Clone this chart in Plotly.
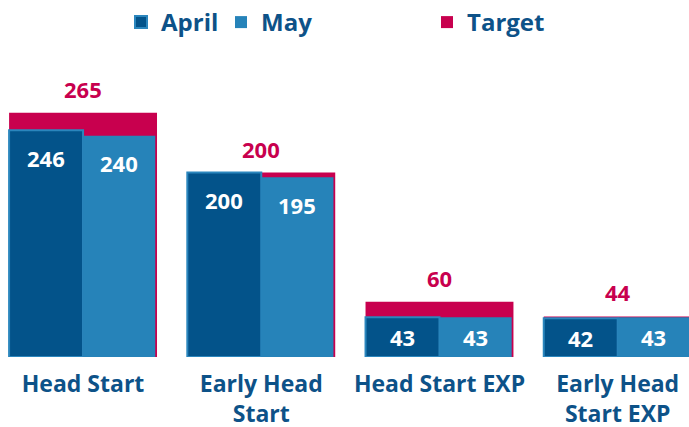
import plotly.graph_objects as go

categories = ["Head Start", "Early Head<br>Start", "Head Start EXP", "Early Head<br>Start EXP"]
april = [246, 200, 43, 42]
may = [240, 195, 43, 43]
target = [265, 200, 60, 44]

C_APRIL = "#03538a"
C_APRIL_LINE = "#2b86bd"
C_MAY = "#2683b9"
C_TARGET = "#c8004e"
C_TEXT = "#0d5288"
FONT = "Open Sans"

fig = go.Figure()
fig.add_trace(go.Bar(
    x=categories, y=target, name="Target", width=0.83, offset=-0.415,
    marker=dict(color=C_TARGET, line=dict(width=0)), legend="legend3",
))
fig.add_trace(go.Bar(
    x=categories, y=april, name="April", width=0.415, offset=-0.415,
    marker=dict(color=C_APRIL, line=dict(color=C_APRIL_LINE, width=2)), legend="legend",
))
fig.add_trace(go.Bar(
    x=categories, y=may, name="May", width=0.405, offset=0.0,
    marker=dict(color=C_MAY, line=dict(width=0)), legend="legend2",
))

annotations = []
for i, c in enumerate(categories):
    annotations.append(dict(x=i, y=target[i], text=f"{target[i]}", showarrow=False,
                            yshift=24, font=dict(family=FONT, size=22, color=C_TARGET, weight="bold")))
    for vals, dx in ((april, -0.2075), (may, 0.2025)):
        v = vals[i]
        ylab = max(v - 30, v / 2)
        annotations.append(dict(x=i + dx, y=ylab, text=f"{v}", showarrow=False,
                                font=dict(family=FONT, size=22, color="white", weight="bold")))

legend_font = dict(family=FONT, size=24, color=C_TEXT, weight="bold")


def leg(xpx):
    return dict(orientation="h", x=xpx / 689, y=1.0, xref="container", yref="container",
                xanchor="left", yanchor="top", font=legend_font, itemwidth=30,
                bgcolor="rgba(0,0,0,0)")


fig.update_layout(
    width=689, height=427,
    margin=dict(l=0, r=0, t=50, b=70, autoexpand=False),
    barmode="overlay",
    plot_bgcolor="white", paper_bgcolor="white",
    font=dict(family=FONT, color=C_TEXT),
    xaxis=dict(type="category", range=[-0.466, 3.40], showgrid=False, showline=False,
               zeroline=False, ticks="", ticklabelstandoff=11, automargin=False,
               tickfont=dict(family=FONT, size=23, color=C_TEXT, weight="bold")),
    yaxis=dict(range=[0, 333], visible=False),
    legend=leg(121),
    legend2=leg(221),
    legend3=leg(427),
    annotations=annotations,
    showlegend=True,
)

fig.write_html("out.html", post_script="document.body.style.margin='0';",
               config={"displayModeBar": False})
